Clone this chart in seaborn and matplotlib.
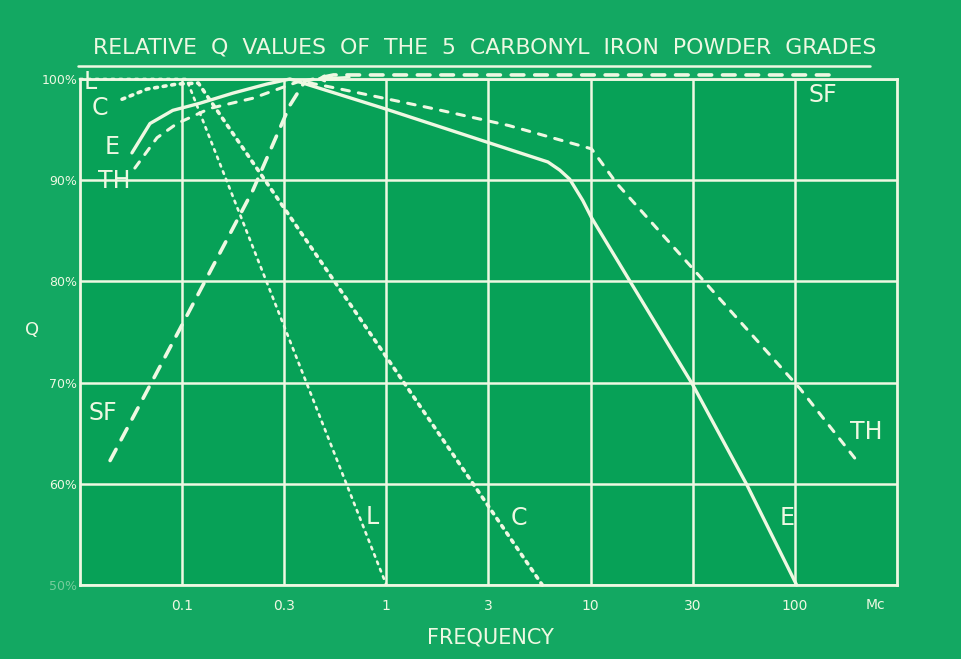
import numpy as np
import pandas as pd
import matplotlib
matplotlib.use("Agg")
import matplotlib.pyplot as plt
import seaborn as sns

# Relative Q (%), frequency in Mc
l_freq = [0.0316, 0.105, 1.0]
l_q = [100, 100, 50]

c_freq = [0.0508, 0.0673, 0.0944, 0.12, 1.2, 5.8]
c_q = [98.0, 99.0, 99.5, 99.6, 70.2, 50]

e_freq = [0.0568, 0.0696, 0.090, 0.122, 0.177, 0.260, 0.337, 0.97, 3.29,
          6.18, 7.06, 7.9, 9.15, 10.1, 15.6, 31.6, 58.2, 102]
e_q = [92.7, 95.6, 96.9, 97.6, 98.6, 99.5, 100, 97.1, 93.6,
       91.8, 91.0, 90.1, 88.0, 86.3, 80.0, 69.8, 59.9, 50]

th_freq = [0.0587, 0.0754, 0.0944, 0.137, 0.222, 0.378, 0.566, 1.67, 3.98,
           10.1, 13.4, 33.5, 106, 208]
th_q = [91.2, 94.2, 95.6, 97.1, 98.1, 99.8, 99.1, 97.1, 95.4,
        93.1, 89.7, 80.7, 69.4, 61.9]

sf_freq = [0.0444, 0.0975, 0.222, 0.337, 0.40, 0.55, 166]
sf_q = [62.3, 75.3, 89.0, 97.4, 99.8, 100.4, 100.4]

x_ticks = [0.1, 10 ** -0.5, 1, 10 ** 0.5, 10, 10 ** 1.5, 100]
x_labels = ["0.1", "0.3", "1", "3", "10", "30", "100"]
y_ticks = [50, 60, 70, 80, 90, 100]
y_labels = ["50%", "60%", "70%", "80%", "90%", "100%"]

frames = []
for name, f, q in [("L", l_freq, l_q), ("C", c_freq, c_q), ("E", e_freq, e_q),
                   ("TH", th_freq, th_q), ("SF", sf_freq, sf_q)]:
    frames.append(pd.DataFrame({"grade": name, "freq": f, "Q": q}))
df = pd.concat(frames, ignore_index=True)

sns.set_style("white")
plt.rcParams["font.family"] = ["DejaVu Sans"]

chalk = "#eef8e2"
W, H = 962, 659
fig = plt.figure(figsize=(W / 100, H / 100), dpi=100, facecolor="#13a862")
ax = fig.add_axes([80 / W, 1 - 585 / H, 817 / W, 506 / H])
ax.set_facecolor("#07a157")

styles = {
    "L": dict(lw=1.9, ls=(0, (1, 2))),
    "C": dict(lw=2.6, ls=(0, (0.8, 1.6))),
    "E": dict(lw=2.4, ls="-"),
    "TH": dict(lw=2.2, ls=(0, (2.5, 3))),
    "SF": dict(lw=2.6, ls=(0, (3.5, 3))),
}
for g, st in styles.items():
    sns.lineplot(data=df[df.grade == g], x="freq", y="Q", ax=ax, color=chalk,
                 estimator=None, sort=False, linewidth=st["lw"], linestyle=st["ls"],
                 dash_capstyle="round", solid_joinstyle="round", clip_on=False)

ax.set_xscale("log")
ax.set_xlim(10 ** -1.5, 10 ** 2.5)
ax.set_ylim(50, 100)
ax.set_xticks(x_ticks)
ax.set_xticklabels(x_labels)
ax.minorticks_off()
ax.set_yticks(y_ticks)
ax.set_yticklabels(y_labels)
ax.tick_params(axis="x", length=0, pad=10, labelsize=10, colors=chalk)
ax.tick_params(axis="y", length=0, pad=2, labelsize=9, colors=chalk)
ax.get_yticklabels()[0].set_alpha(0.45)
ax.grid(True, color=chalk, linewidth=1.8)
for s in ax.spines.values():
    s.set_color(chalk)
    s.set_linewidth(2)
ax.set_xlabel("")
ax.set_ylabel("")

# arrow at the top where SF reaches 100 %
ax.annotate("", xy=(0.44, 100.0), xytext=(0.68, 100.2),
            arrowprops=dict(arrowstyle="->", color=chalk, lw=1.8), annotation_clip=False)


def ptext(x, y, s, size, **kw):
    fig.text(x / W, 1 - y / H, s, fontsize=size, color=chalk, ha="center", va="center", **kw)


ptext(485, 47, "RELATIVE  Q  VALUES  OF  THE  5  CARBONYL  IRON  POWDER  GRADES", 15.8)
fig.add_artist(plt.Line2D([78 / W, 870 / W], [1 - 66 / H] * 2, color=chalk, lw=1.8))
ptext(32, 330, "Q", 13)
ptext(490, 638, "FREQUENCY", 15)
ptext(875, 605, "Mc", 10)

for x, y, s in [(90, 82, "L"), (100, 108, "C"), (112, 147, "E"), (114, 181, "TH"),
                (103, 413, "SF"), (823, 95, "SF"), (866, 432, "TH"),
                (787, 518, "E"), (372, 517, "L"), (519, 518, "C")]:
    ptext(x, y, s, 17)

fig.savefig("out.png", dpi=100, facecolor=fig.get_facecolor())
